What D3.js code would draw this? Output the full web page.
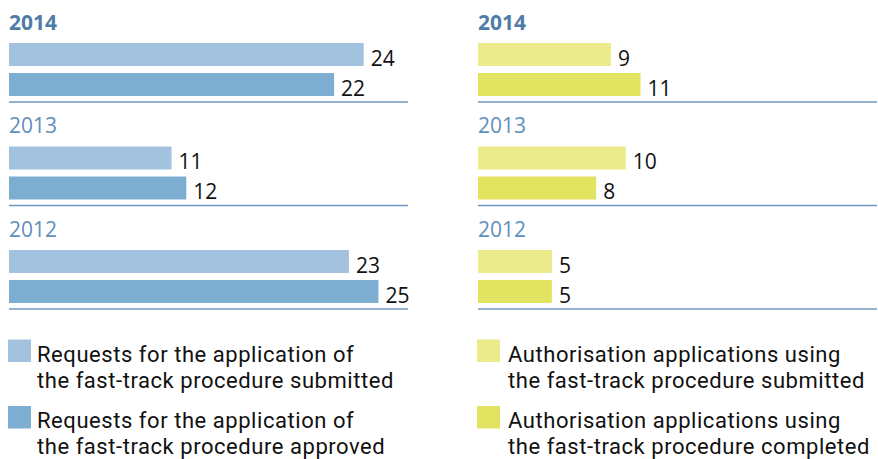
<!DOCTYPE html>
<html><head><meta charset="utf-8">
<script src="https://cdn.jsdelivr.net/npm/d3@7"></script>
<style>
html,body{margin:0;padding:0;background:#fff;}
svg{display:block;font-family:"Open Sans",sans-serif;}
</style></head>
<body><svg id="chart" width="878" height="459"></svg>
<script>
const years = ["2014", "2013", "2012"];
const requestsSubmitted = [24, 11, 23];
const requestsApproved = [22, 12, 25];
const authSubmitted = [9, 10, 5];
const authCompleted = [11, 8, 5];
const legendLeft = [
  ["Requests for the application of", "the fast-track procedure submitted"],
  ["Requests for the application of", "the fast-track procedure approved"]
];
const legendRight = [
  ["Authorisation applications using", "the fast-track procedure submitted"],
  ["Authorisation applications using", "the fast-track procedure completed"]
];

const svg = d3.select("#chart");
const panelW = 399;
const x = d3.scaleLinear().domain([0, 27]).range([0, panelW]);
const yGroup = d3.scaleBand().domain(years).range([0, 310.5]);
const ySub = d3.scaleBand().domain([0, 1]).range([43, 96]).paddingInner(7/30).paddingOuter(0);

const panels = [
  {x0: 9, series: [requestsSubmitted, requestsApproved], colors: ["#a2c2df", "#7eadd2"], legend: legendLeft, swX: 8, txX: 37},
  {x0: 478, series: [authSubmitted, authCompleted], colors: ["#ebeb8b", "#e3e362"], legend: legendRight, swX: 477, txX: 508}
];

panels.forEach(p => {
  const g = svg.append("g").attr("transform", `translate(${p.x0},0)`);
  years.forEach((yr, i) => {
    const gy = g.append("g").attr("transform", `translate(0,${yGroup(yr)})`);
    gy.append("text")
      .attr("x", 0).attr("y", 29.5)
      .attr("font-size", 21)
      .attr("font-weight", i === 0 ? 700 : 400)
      .attr("fill", i === 0 ? "#4f7ca6" : "#5f8fbb")
      .text(yr);
    p.series.forEach((s, k) => {
      gy.append("rect")
        .attr("x", 0).attr("y", ySub(k))
        .attr("width", x(s[i])).attr("height", ySub.bandwidth())
        .attr("fill", p.colors[k]);
      gy.append("text")
        .attr("x", x(s[i]) + 7).attr("y", ySub(k) + ySub.bandwidth() - 0.5)
        .attr("font-size", 21).attr("fill", "#111")
        .text(s[i]);
    });
    gy.append("line")
      .attr("x1", 0).attr("x2", panelW)
      .attr("y1", 102).attr("y2", 102)
      .attr("stroke", "#6f96bf").attr("stroke-width", 1.5);
  });
  // legend
  const swY = [339.5, 406];
  p.legend.forEach((lines, k) => {
    svg.append("rect")
      .attr("x", p.swX).attr("y", swY[k])
      .attr("width", 23).attr("height", 22.5)
      .attr("fill", p.colors[k]);
    lines.forEach((ln, j) => {
      svg.append("text")
        .attr("x", p.txX).attr("y", swY[k] + 22 + j * 26)
        .attr("font-family", "Roboto, sans-serif")
        .attr("font-size", 22).attr("letter-spacing", 0.55).attr("fill", "#111")
        .text(ln);
    });
  });
});
</script></body></html>
